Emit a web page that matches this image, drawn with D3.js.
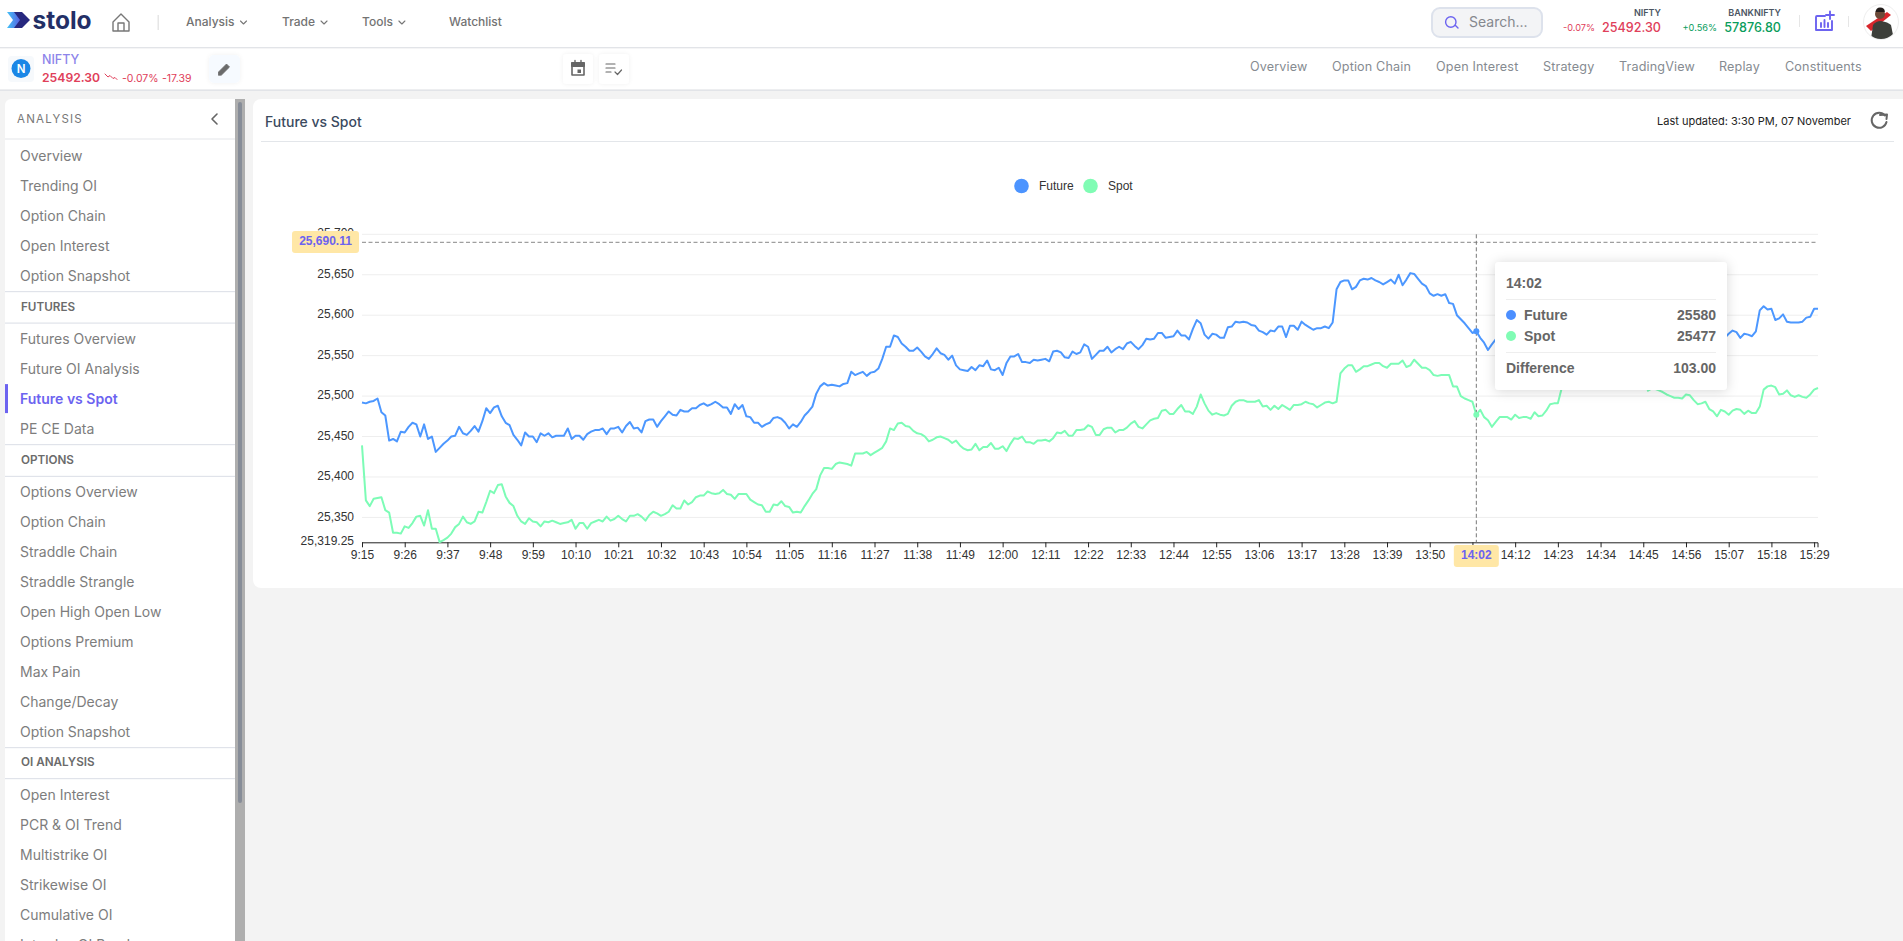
<!DOCTYPE html>
<html>
<head>
    <meta charset="utf-8">
    <title>Future vs Spot</title>
    <script src="https://cdnjs.cloudflare.com/ajax/libs/d3/7.8.5/d3.min.js"></script>
    <style>
        html, body { margin: 0; padding: 0; background: #f3f3f3; overflow: hidden; }
        svg { display: block; }
        text { font-family: Inter, sans-serif; }
        .chart text { font-family: "Liberation Sans", Arial, sans-serif; }
    </style>
</head>
<body>
<svg id="page" width="1903" height="941"></svg>
<script>
// minute by minute, 9:15 onwards. null = behind the tooltip, cannot be read
var future = [25492,25491,25493,25494,25497,25480,25476,25445,25447,25444,25456,25455,25462,25467,25465,25450,25465,25447,25450,25431,
25436,25441,25445,25450,25451,25462,25454,25452,25457,25463,25456,25469,25485,25479,25486,25488,25475,25467,25464,25452,
25446,25439,25455,25450,25450,25443,25454,25451,25454,25449,25451,25451,25451,25460,25447,25451,25451,25446,25453,25456,
25458,25458,25460,25453,25460,25460,25462,25455,25463,25468,25460,25461,25455,25469,25471,25471,25462,25469,25475,25481,
25477,25476,25483,25481,25481,25485,25485,25489,25491,25488,25490,25493,25490,25486,25486,25478,25490,25484,25489,25475,
25474,25467,25467,25462,25465,25467,25473,25474,25472,25467,25460,25465,25462,25468,25476,25481,25487,25503,25512,25516,
25513,25514,25513,25512,25515,25516,25530,25526,25528,25530,25525,25529,25530,25534,25546,25561,25561,25575,25573,25565,
25561,25556,25556,25560,25555,25549,25546,25552,25559,25553,25551,25545,25550,25538,25533,25532,25531,25536,25532,25538,
25537,25544,25533,25532,25535,25526,25541,25549,25549,25552,25542,25542,25541,25545,25544,25545,25546,25543,25555,25556,
25554,25548,25547,25555,25552,25554,25564,25561,25546,25551,25556,25556,25561,25554,25558,25561,25558,25565,25567,25562,
25558,25563,25571,25570,25571,25578,25578,25572,25573,25574,25581,25575,25575,25570,25583,25594,25590,25576,25571,25577,
25576,25572,25572,25585,25586,25592,25591,25592,25591,25588,25587,25581,25579,25576,25581,25580,25586,25586,25573,25587,
25587,25582,25592,25588,25585,25582,25584,25584,25586,25584,25591,25632,25641,25643,25643,25632,25635,25643,25645,25644,
25646,25643,25641,25638,25641,25644,25639,25650,25637,25644,25652,25651,25645,25639,25636,25627,25624,25626,25624,25626,
25615,25614,25600,25595,25590,25584,25578,25580,25572,25566,25557,25564,25570,
null,null,null,null,null,null,null,null,null,null,null,null,null,null,null,null,null,null,null,null,
null,null,null,null,null,null,null,null,null,null,null,null,null,null,null,null,null,null,null,null,
null,null,null,null,null,null,null,null,null,null,null,null,null,null,null,null,null,null,
25572,25577,25581,25579,25572,25577,25576,25574,25580,25606,25611,25607,25608,25594,25596,25601,25592,25591,25591,25591,
25592,25597,25598,25608,25608];

var spot = [25439,25371,25364,25373,25374,25375,25359,25356,25331,25331,25330,25339,25337,25343,25351,25352,25340,25359,25336,25336,
25319.5,25322,25325,25330,25338,25342,25351,25344,25342,25345,25357,25356,25369,25383,25380,25390,25391,25376,25368,25364,
25352,25345,25342,25349,25345,25344,25339,25345,25344,25346,25344,25342,25343,25344,25347,25336,25343,25343,25336,25343,
25345,25347,25345,25351,25346,25348,25352,25348,25345,25352,25352,25354,25351,25346,25353,25357,25355,25352,25354,25357,
25365,25361,25361,25371,25366,25369,25375,25377,25377,25382,25380,25379,25380,25384,25379,25378,25373,25379,25379,25379,
25372,25369,25366,25365,25357,25357,25366,25365,25370,25364,25363,25356,25357,25356,25364,25371,25379,25385,25402,25411,
25411,25410,25416,25418,25417,25416,25414,25429,25429,25429,25431,25427,25430,25433,25436,25444,25460,25458,25466,25467,
25463,25462,25457,25454,25453,25450,25444,25446,25449,25450,25448,25446,25442,25445,25439,25435,25433,25434,25441,25433,
25437,25437,25442,25435,25435,25438,25432,25441,25448,25447,25450,25443,25443,25441,25445,25445,25446,25444,25448,25455,
25454,25457,25451,25451,25458,25458,25459,25464,25462,25452,25452,25459,25461,25461,25455,25458,25458,25461,25466,25469,
25462,25460,25465,25470,25472,25473,25482,25483,25478,25478,25484,25489,25481,25481,25478,25487,25502,25491,25482,25477,
25479,25477,25476,25478,25488,25493,25495,25495,25493,25493,25493,25495,25487,25488,25483,25488,25484,25489,25486,25483,
25489,25489,25490,25493,25491,25490,25486,25489,25492,25493,25491,25493,25528,25534,25538,25538,25530,25533,25537,25537,
25539,25541,25541,25537,25535,25540,25540,25540,25544,25536,25538,25545,25540,25535,25535,25532,25526,25525,25526,25526,
25526,25512,25512,25500,25497,25495,25493,25477,25483,25474,25470,25462,25468,25474,25474,25474,25471,25477,25473,25474,
25474,25472,25480,25475,25476,25482,25490,25491,25491,25510,
null,null,null,null,null,null,null,null,null,null,null,null,null,null,null,null,null,null,null,null,null,
25506,25509,25509,25507,25505,25502,25500,25498,25498,25497,25502,25501,25495,25490,25491,25493,25484,25481,25475,25483,
25481,25477,25482,25484,25483,25478,25482,25479,25479,25487,25508,25512,25513,25511,25502,25503,25507,25501,25499,25501,
25499,25498,25502,25508,25510];

var yTicks = [25319.25,25350,25400,25450,25500,25550,25600,25650,25700];
var xTickLabels = ["9:15","9:26","9:37","9:48","9:59","10:10","10:21","10:32","10:43","10:54","11:05","11:16","11:27","11:38","11:49","12:00","12:11","12:22","12:33","12:44","12:55","13:06","13:17","13:28","13:39","13:50","14:01","14:12","14:23","14:34","14:45","14:56","15:07","15:18","15:29"];
var tickEvery = 11;
var hoverIdx = 287, hoverTime = "14:02", hoverPrice = 25690.11;
var hoverFuture = 25580, hoverSpot = 25477;

var navItems = [["Analysis",186,true],["Trade",282,true],["Tools",362,true],["Watchlist",449,false]];
var tabs = [["Overview",1250],["Option Chain",1332],["Open Interest",1436],["Strategy",1543],["TradingView",1619],["Replay",1719],["Constituents",1785]];
var side = [
    ["i","Overview",156],["i","Trending OI",186],["i","Option Chain",216],["i","Open Interest",246],["i","Option Snapshot",276],
    ["d","",291],["h","FUTURES",306.5],["d","",322.5],
    ["i","Futures Overview",339],["i","Future OI Analysis",368.7],["a","Future vs Spot",398.6],["i","PE CE Data",428.7],
    ["d","",444],["h","OPTIONS",459.5],["d","",475.8],
    ["i","Options Overview",492.3],["i","Option Chain",522.3],["i","Straddle Chain",552.3],["i","Straddle Strangle",582.3],["i","Open High Open Low",611.6],["i","Options Premium",641.6],["i","Max Pain",671.6],["i","Change/Decay",701.6],["i","Option Snapshot",731.6],
    ["d","",747],["h","OI ANALYSIS",762],["d","",778],
    ["i","Open Interest",794.6],["i","PCR & OI Trend",824.6],["i","Multistrike OI",854.6],["i","Strikewise OI",884.6],["i","Cumulative OI",914.6],["i","Intraday OI Band",944.6]
];

var futureColor = "#4c97ff", spotColor = "#7dfcb6", indigo = "#6c63f0";
var svg = d3.select("#page");

function rect(g, x, y, w, h, fill, r) {
    return g.append("rect").attr("x", x).attr("y", y).attr("width", w).attr("height", h).attr("fill", fill).attr("rx", r || 0);
}
function txt(g, x, y, s, size, color, weight, anchor) {
    return g.append("text").attr("x", x).attr("y", y).attr("dy", "0.35em").text(s)
        .attr("font-size", size).attr("fill", color).attr("font-weight", weight || 400).attr("text-anchor", anchor || "start");
}
function icon(g, d, stroke, sw, fill) {
    return g.append("path").attr("d", d).attr("fill", fill || "none").attr("stroke", stroke).attr("stroke-width", sw || 1.5)
        .attr("stroke-linecap", "round").attr("stroke-linejoin", "round");
}

// soft shadow for tooltip and small buttons
var defs = svg.append("defs");
var flt = defs.append("filter").attr("id", "shadow").attr("x", "-20%").attr("y", "-20%").attr("width", "140%").attr("height", "140%");
flt.append("feDropShadow").attr("dx", 0).attr("dy", 1).attr("stdDeviation", 6).attr("flood-color", "#000").attr("flood-opacity", 0.16);
var flt2 = defs.append("filter").attr("id", "btn").attr("x", "-30%").attr("y", "-30%").attr("width", "160%").attr("height", "160%");
flt2.append("feDropShadow").attr("dx", 0).attr("dy", 0).attr("stdDeviation", 2).attr("flood-color", "#000").attr("flood-opacity", 0.06);
var logoGrad = defs.append("linearGradient").attr("id", "logoG");
logoGrad.append("stop").attr("offset", "0").attr("stop-color", "#43c3f7");
logoGrad.append("stop").attr("offset", "1").attr("stop-color", "#5a52e0");
defs.append("clipPath").attr("id", "ava").append("circle").attr("cx", 1881).attr("cy", 22).attr("r", 17);

rect(svg, 0, 0, 1903, 941, "#f3f3f3");

// ---- top nav ----
var top1 = svg.append("g");
rect(top1, 0, 0, 1903, 47, "#fff");
rect(top1, 0, 47, 1903, 1.5, "#e2e4e8");
icon(top1, "M7 12 L15 12 L22 20 L15 28 L7 28 L13 20 Z", "none", 0, "url(#logoG)");
icon(top1, "M14 12 L22 12 L30 20 L22 28 L14 28 L20 20 Z", "none", 0, "#27287f");
txt(top1, 32.5, 20, "stolo", 24.5, "#232f66", 700).attr("font-family", "Lato, sans-serif");
icon(top1, "M113 22 L121 14 L129 22 L129 31 L113 31 Z M118 31 L118 23 L124 23 L124 31", "#777", 1.4);
rect(top1, 157.5, 15, 1.5, 15, "#e6e6e6");
navItems.forEach(function (d) {
    var t = txt(top1, d[1], 22, d[0], 12, "#737373", 500);
    if (d[2]) {
        var w = t.node().getComputedTextLength(), cx = d[1] + w + 9;
        icon(top1, "M" + (cx - 3) + " 21 l3 3 l3 -3", "#777", 1.1);
    }
});

// search box
rect(top1, 1432, 8, 110, 29, "#f3f4f6", 8).attr("stroke", "#dde2ec").attr("stroke-width", 2);
icon(top1, "M1458 28 L1455 25 M1456 22 a5.2 5.2 0 1 1 -10.4 0 a5.2 5.2 0 1 1 10.4 0", indigo, 1.4);
txt(top1, 1469, 22, "Search...", 14, "#85888e");

txt(top1, 1661, 13, "NIFTY", 9, "#4b5563", 600, "end");
txt(top1, 1661, 28, "25492.30", 12.6, "#e0405a", 500, "end");
txt(top1, 1595, 28, "-0.07%", 9.2, "#e0405a", 400, "end");
txt(top1, 1781, 13, "BANKNIFTY", 9, "#4b5563", 600, "end");
txt(top1, 1781, 28, "57876.80", 12.6, "#0a9d5c", 500, "end");
txt(top1, 1717, 28, "+0.56%", 9.2, "#0a9d5c", 400, "end");
rect(top1, 1799, 15, 1, 12, "#e6e6e6");
icon(top1, "M1825 16 L1817 16 Q1816 16 1816 17 L1816 30 L1832 30 L1832 21 M1821 27 L1821 23 M1824.5 27 L1824.5 20 M1828 27 L1828 23", indigo, 1.9);
icon(top1, "M1830 11.5 L1830 19 M1826 15 L1834 15", indigo, 1.9);
rect(top1, 1848, 16, 1, 11, "#e6e6e6");
// avatar
top1.append("circle").attr("cx", 1881).attr("cy", 22).attr("r", 17.5).attr("fill", "#fff").attr("stroke", "#eeeeee");
var av = top1.append("g").attr("clip-path", "url(#ava)");
icon(av, "M1866 26 L1887 12 L1891 15 L1871 31 Z", "none", 0, "#d8262c");
icon(av, "M1871 39 L1873 25 Q1876 21 1881 21 Q1888 22 1891 25 L1893 35 L1889 39 Z", "none", 0, "#3d3f3a");
av.append("circle").attr("cx", 1880).attr("cy", 14).attr("r", 5).attr("fill", "#6b4a38");
icon(av, "M1875.5 12 Q1876 7.5 1880 7.5 Q1885 7.5 1884.8 12 Z", "none", 0, "#221c1a");

// ---- second row ----
var top2 = svg.append("g");
rect(top2, 0, 48.5, 1903, 41, "#fff");
rect(top2, 0, 89.5, 1903, 1.5, "#e2e4e8");
rect(top2, 8, 56, 26, 26, "#f6f9fc", 4);
top2.append("circle").attr("cx", 21).attr("cy", 68.5).attr("r", 9.5).attr("fill", "#1b87e6");
txt(top2, 21, 68.5, "N", 11.5, "#fff", 600, "middle");
txt(top2, 42, 60, "NIFTY", 12.5, "#8d84ea", 500);
txt(top2, 42, 78, "25492.30", 12.2, "#e0405a", 600);
icon(top2, "M105 74 l3 3 l2 -1.5 l3 3 l2 -1 l2 2", "#e0405a", 1);
txt(top2, 122, 78, "-0.07%", 10.5, "#e0405a");
txt(top2, 162, 78, "-17.39", 10.5, "#e0405a");
rect(top2, 209, 55, 31, 28, "#f6faff", 5).attr("filter", "url(#btn)");
icon(top2, "M218.5 75 L218.5 72 L226.5 64 L229.5 67 L221.5 75 Z", "#6b6b6b", 0.8, "#6b6b6b");
rect(top2, 563, 54, 30, 30, "#fff", 4).attr("filter", "url(#btn)");
rect(top2, 599, 54, 30, 30, "#fff", 4).attr("filter", "url(#btn)");
icon(top2, "M572 63 h12 v12 h-12 Z", "#666", 1.6);
rect(top2, 571, 62, 14, 5, "#666", 1);
icon(top2, "M575 60.5 v2 M581 60.5 v2", "#666", 1.4);
rect(top2, 577.5, 69.5, 3.5, 3.5, "#666");
icon(top2, "M606 64 h9 M606 68 h9 M606 72 h5 M615 72 l2.5 2.5 l4 -4.5", "#666", 1.2);
tabs.forEach(function (d) { txt(top2, d[1], 66.5, d[0], 12.6, "#868b91", 400).attr("letter-spacing", 0.15); });

// ---- sidebar ----
var sb = svg.append("g");
rect(sb, 5, 99, 240, 860, "#fff", 6);
rect(sb, 235, 99, 10, 842, "#aeaeae");
rect(sb, 238, 102, 4, 701, "#878d98", 2);
txt(sb, 17, 119, "ANALYSIS", 11.5, "#777").attr("letter-spacing", 1.2);
icon(sb, "M217 114 L212 119 L217 124", "#666", 1.6);
rect(sb, 5, 138.5, 230, 1, "#e3e6ea");
side.forEach(function (d) {
    if (d[0] == "d") rect(sb, 5, d[2], 230, 1.2, "#e0e3ea");
    else if (d[0] == "h") txt(sb, 21, d[2], d[1], 11.7, "#6b6b6b", 600);
    else if (d[0] == "a") {
        rect(sb, 5, d[2] - 14.5, 3, 29, indigo);
        txt(sb, 20, d[2], d[1], 14, indigo, 600);
    } else txt(sb, 20, d[2], d[1], 14, "#7d7d7d");
});

// ---- main card ----
var card = svg.append("g");
rect(card, 253, 99, 1660, 489, "#fff", 8);
txt(card, 265, 122, "Future vs Spot", 14, "#3b4a60", 500);
rect(card, 261, 141, 1633, 1, "#e3e6ea");
txt(card, 1657, 121, "Last updated: 3:30 PM, 07 November", 11, "#222");
icon(card, "M1885 115.5 A7.5 7.5 0 1 0 1886.5 122", "#666", 2);
icon(card, "M1880 115 L1887 114.5 L1886.5 119", "#666", 2);

// ---- chart ----
var chart = svg.append("g").attr("class", "chart");
var x = d3.scaleLinear().domain([0, 375]).range([362, 1818]);
var y = d3.scaleLinear().domain([25319.25, 25700]).range([542.3, 234.3]);

chart.append("g").selectAll("line").data(yTicks.slice(1)).enter().append("line")
    .attr("x1", x(0)).attr("x2", x(375)).attr("y1", y).attr("y2", y).attr("stroke", "#eeeeee").attr("stroke-width", 1);

var yAxis = d3.axisLeft(y).tickValues(yTicks).tickSize(0).tickPadding(0)
    .tickFormat(function (d) { return d == 25319.25 ? "25,319.25" : d3.format(",")(d); });
var gy = chart.append("g").attr("transform", "translate(354,0)").call(yAxis);
gy.select(".domain").remove();
gy.selectAll("text").attr("font-size", 12).attr("fill", "#333").attr("dy", "0.22em");

var xAxis = d3.axisBottom(x).tickValues(xTickLabels.map(function (d, i) { return i * tickEvery; }))
    .tickSize(5).tickPadding(3).tickFormat(function (d) { return xTickLabels[d / tickEvery]; });
var gx = chart.append("g").attr("transform", "translate(0,542.3)").call(xAxis);
gx.select(".domain").attr("stroke", "#222").attr("d", "M" + x(0) + ",0.5V0.5H" + x(375) + "V5");
gx.selectAll("line").attr("stroke", "#222");
gx.selectAll("text").attr("font-size", 12).attr("fill", "#333");

var line = d3.line().defined(function (d) { return d !== null; })
    .x(function (d, i) { return x(i); }).y(function (d) { return y(d); });
chart.append("path").datum(future).attr("d", line).attr("fill", "none").attr("stroke", futureColor).attr("stroke-width", 2).attr("stroke-linejoin", "round");
chart.append("path").datum(spot).attr("d", line).attr("fill", "none").attr("stroke", spotColor).attr("stroke-width", 2).attr("stroke-linejoin", "round");

// legend
var lg = chart.append("g");
lg.append("circle").attr("cx", 1021.5).attr("cy", 186).attr("r", 7.3).attr("fill", "#4c94ff");
txt(lg, 1039, 186, "Future", 12, "#333");
lg.append("circle").attr("cx", 1090.5).attr("cy", 186).attr("r", 7.3).attr("fill", "#80fcb4");
txt(lg, 1108, 186, "Spot", 12, "#333");

// crosshair
chart.append("line").attr("x1", x(0)).attr("x2", x(375)).attr("y1", y(hoverPrice)).attr("y2", y(hoverPrice))
    .attr("stroke", "#888").attr("stroke-dasharray", "4 2.5");
chart.append("line").attr("x1", x(hoverIdx)).attr("x2", x(hoverIdx)).attr("y1", y(25700)).attr("y2", y.range()[0])
    .attr("stroke", "#777").attr("stroke-dasharray", "4 2.5");
rect(chart, 292, 231, 67, 22, "#ffe7a6", 3);
txt(chart, 325.5, 241, d3.format(",.2f")(hoverPrice), 12, indigo, 700, "middle");
rect(chart, x(hoverIdx) - 22.5, 545, 45, 22, "#ffe7a6", 3);
txt(chart, x(hoverIdx), 555, hoverTime, 12, indigo, 700, "middle");
chart.append("circle").attr("cx", x(hoverIdx)).attr("cy", y(hoverFuture)).attr("r", 3).attr("fill", futureColor);
chart.append("circle").attr("cx", x(hoverIdx)).attr("cy", y(hoverSpot)).attr("r", 3).attr("fill", spotColor);

// tooltip
var tip = chart.append("g");
rect(tip, 1495, 262, 232, 128, "#fff", 4).attr("filter", "url(#shadow)");
txt(tip, 1506, 283, hoverTime, 14, "#666", 700);
rect(tip, 1506, 299, 210, 1, "#eeeeee");
tip.append("circle").attr("cx", 1511).attr("cy", 315).attr("r", 5).attr("fill", "#4c8fff");
txt(tip, 1524, 315, "Future", 14, "#666", 700);
txt(tip, 1716, 315, hoverFuture, 14, "#666", 700, "end");
tip.append("circle").attr("cx", 1511).attr("cy", 336).attr("r", 5).attr("fill", "#80fcb4");
txt(tip, 1524, 336, "Spot", 14, "#666", 700);
txt(tip, 1716, 336, hoverSpot, 14, "#666", 700, "end");
rect(tip, 1506, 352, 210, 1, "#eeeeee");
txt(tip, 1506, 368, "Difference", 14, "#666", 700);
txt(tip, 1716, 368, (hoverFuture - hoverSpot).toFixed(2), 14, "#666", 700, "end");
</script>
</body>
</html>
